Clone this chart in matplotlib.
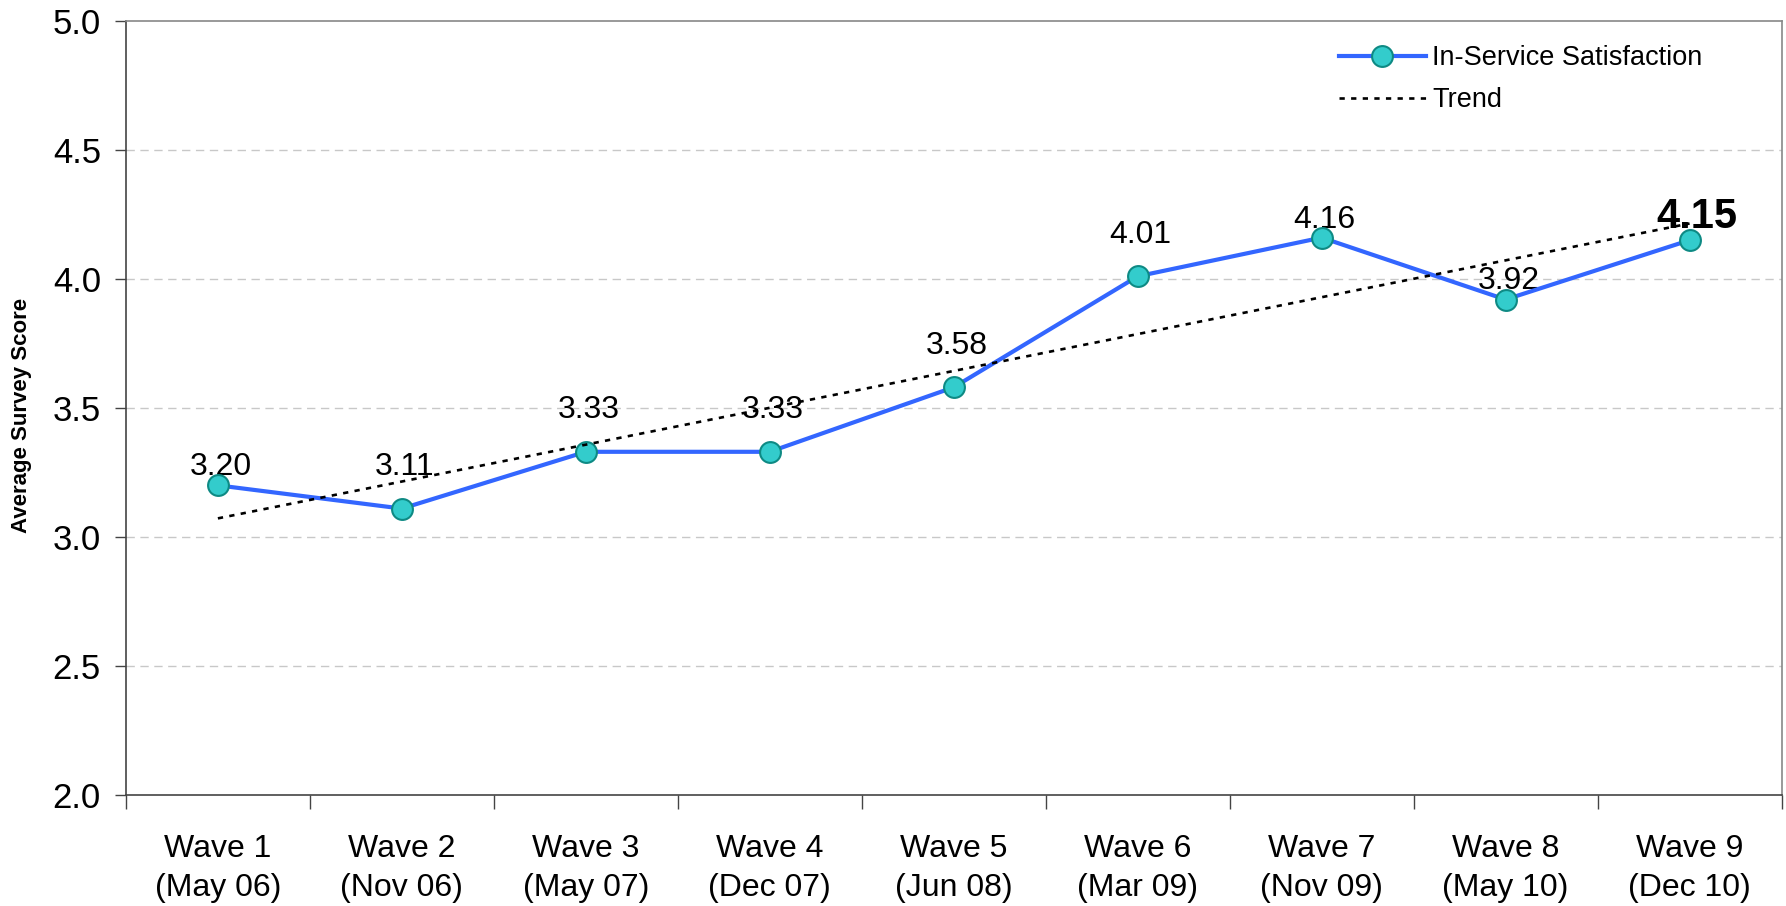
import numpy as np
import matplotlib.pyplot as plt
from matplotlib.ticker import MultipleLocator, FixedLocator

plt.rcParams['font.family'] = ['Liberation Sans', 'DejaVu Sans']

# survey waves and scores
waves = ['Wave 1\n(May 06)', 'Wave 2\n(Nov 06)', 'Wave 3\n(May 07)', 'Wave 4\n(Dec 07)',
         'Wave 5\n(Jun 08)', 'Wave 6\n(Mar 09)', 'Wave 7\n(Nov 09)', 'Wave 8\n(May 10)',
         'Wave 9\n(Dec 10)']
scores = [3.20, 3.11, 3.33, 3.33, 3.58, 4.01, 4.16, 3.92, 4.15]

x = np.arange(1, len(scores) + 1)

# linear trend over all waves
slope, intercept = np.polyfit(x, scores, 1)
trend = slope * x + intercept

fig = plt.figure(figsize=(17.86, 9.06), dpi=100)
ax = fig.add_axes([0.0705, 0.1225, 0.927, 0.8545])

ax.plot(x, scores, '-o', color='#3366FF', lw=3, markersize=15,
        markerfacecolor='#33CCCC', markeredgecolor='#0E8A84', markeredgewidth=1.5,
        label='In-Service Satisfaction', zorder=3)
ax.plot(x, trend, color='black', lw=1.9, linestyle=(0, (2, 2.4)),
        label='Trend', zorder=4)

# value labels (some lifted higher so they clear the trend line)
label_lift = [13, 30, 30, 30, 30, 30, 13, 13, 17]
for i, (xi, yi) in enumerate(zip(x, scores)):
    last = i == len(scores) - 1
    ax.annotate(f'{yi:.2f}', (xi, yi), xytext=(5 if last else 2, label_lift[i]),
                textcoords='offset points', ha='center', va='center',
                fontsize=30 if last else 23, fontweight='bold' if last else 'normal',
                zorder=2)

ax.set_xlim(0.5, len(scores) + 0.5)
ax.set_ylim(2.0, 5.0)
ax.yaxis.set_major_locator(MultipleLocator(0.5))
ax.yaxis.set_major_formatter(plt.FormatStrFormatter('%.1f'))

# category labels centred, tick marks between categories
ax.xaxis.set_major_locator(FixedLocator(np.arange(0.5, len(scores) + 1, 1)))
ax.xaxis.set_minor_locator(FixedLocator(x))
ax.set_xticklabels([])
ax.set_xticklabels(waves, minor=True, fontsize=23, linespacing=1.38)
ax.tick_params(axis='x', which='major', length=10, width=1, color='#444444')
ax.tick_params(axis='x', which='minor', length=0, pad=28)
ax.tick_params(axis='y', length=8, width=1, color='#444444', labelsize=25, pad=10)

for yv in [2.5, 3.0, 3.5, 4.0, 4.5]:
    ax.axhline(yv, color='#C8C8C8', lw=1, linestyle=(0, (6, 4)), zorder=0)

for side in ['left', 'bottom']:
    ax.spines[side].set_color('#444444')
    ax.spines[side].set_linewidth(1.2)
for side in ['top', 'right']:
    ax.spines[side].set_color('#888888')
    ax.spines[side].set_linewidth(1.2)

ax.set_ylabel('Average Survey Score', fontsize=16, fontweight='bold',
              family=['Liberation Sans Narrow', 'Liberation Sans'])
ax.yaxis.set_label_coords(-0.057, 0.49)

ax.legend(loc='upper right', frameon=False, fontsize=19.5, handlelength=3.2,
          handletextpad=0.25, labelspacing=0.6, bbox_to_anchor=(0.967, 1.0))

fig.savefig('out.png', dpi=100)
